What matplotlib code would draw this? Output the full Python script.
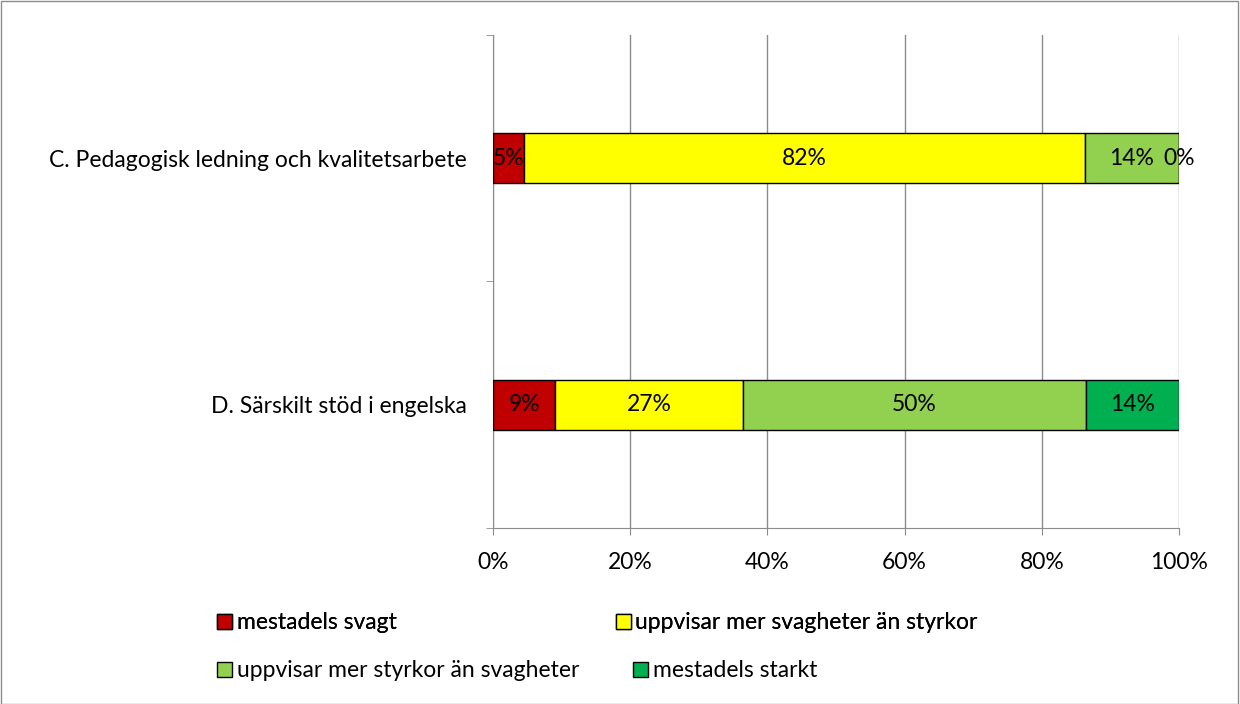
import matplotlib.pyplot as plt
from matplotlib.patches import Patch, Rectangle
import numpy as np

plt.rcParams['font.family'] = ['Lato', 'DejaVu Sans']

categories = ['C. Pedagogisk ledning och kvalitetsarbete', 'D. Särskilt stöd i engelska']
series = ['mestadels svagt', 'uppvisar mer svagheter än styrkor',
          'uppvisar mer styrkor än svagheter', 'mestadels starkt']
values = {
    'mestadels svagt': [4.55, 9.1],
    'uppvisar mer svagheter än styrkor': [81.8, 27.3],
    'uppvisar mer styrkor än svagheter': [13.6, 50.0],
    'mestadels starkt': [0.0, 13.6],
}
colors = ['#C00000', '#FFFF00', '#92D050', '#00B050']

FS = 16.5

fig = plt.figure(figsize=(12.4, 7.04), dpi=100)
fig.patches.append(Rectangle((0.0005, 0.0005), 0.998, 0.998, transform=fig.transFigure,
                             fill=False, edgecolor='#8c8c8c', linewidth=1))
ax = fig.add_axes([0.3976, 0.25, 0.5532, 0.7003])

y = np.arange(len(categories))
left = np.zeros(len(categories))
for name, col in zip(series, colors):
    vals = np.array(values[name])
    ax.barh(y, vals, left=left, height=0.203, color=col, edgecolor='black',
            linewidth=1, zorder=3)
    for yi, (l, v) in enumerate(zip(left, vals)):
        ax.text(l + v / 2, yi, f'{v:.0f}%', ha='center', va='center',
                fontsize=FS, zorder=4)
    left += vals

ax.set_xlim(0, 100)
ax.set_ylim(1.5, -0.5)
ax.set_xticks(np.arange(0, 101, 20))
ax.set_xticklabels([f'{t}%' for t in range(0, 101, 20)], fontsize=FS)
ax.set_yticks(y)
ax.set_yticklabels(categories, fontsize=FS)
ax.set_yticks([-0.5, 0.5, 1.5], minor=True)
ax.tick_params(axis='y', which='major', length=0, pad=19)
ax.tick_params(axis='y', which='minor', length=5, color='#8c8c8c')
ax.tick_params(axis='x', length=5, color='#8c8c8c', pad=12)
ax.grid(axis='x', color='#8c8c8c', linewidth=1, zorder=0)
for s in ['top', 'right']:
    ax.spines[s].set_visible(False)
for s in ['left', 'bottom']:
    ax.spines[s].set_color('#8c8c8c')

handles = [Patch(facecolor=c, edgecolor='black', linewidth=1) for c in colors]
leg1 = fig.legend(handles[:2], series[:2], loc='upper left', bbox_to_anchor=(0.168, 0.143),
                  ncol=2, frameon=False, fontsize=FS, handlelength=0.65, handleheight=0.65,
                  handletextpad=0.2, columnspacing=9.56, borderaxespad=0)
fig.add_artist(leg1)
fig.legend(handles[2:], series[2:], loc='upper left', bbox_to_anchor=(0.168, 0.075),
           ncol=2, frameon=False, fontsize=FS, handlelength=0.65, handleheight=0.65,
           handletextpad=0.2, columnspacing=2.35, borderaxespad=0)

fig.savefig('out.png', dpi=100)
